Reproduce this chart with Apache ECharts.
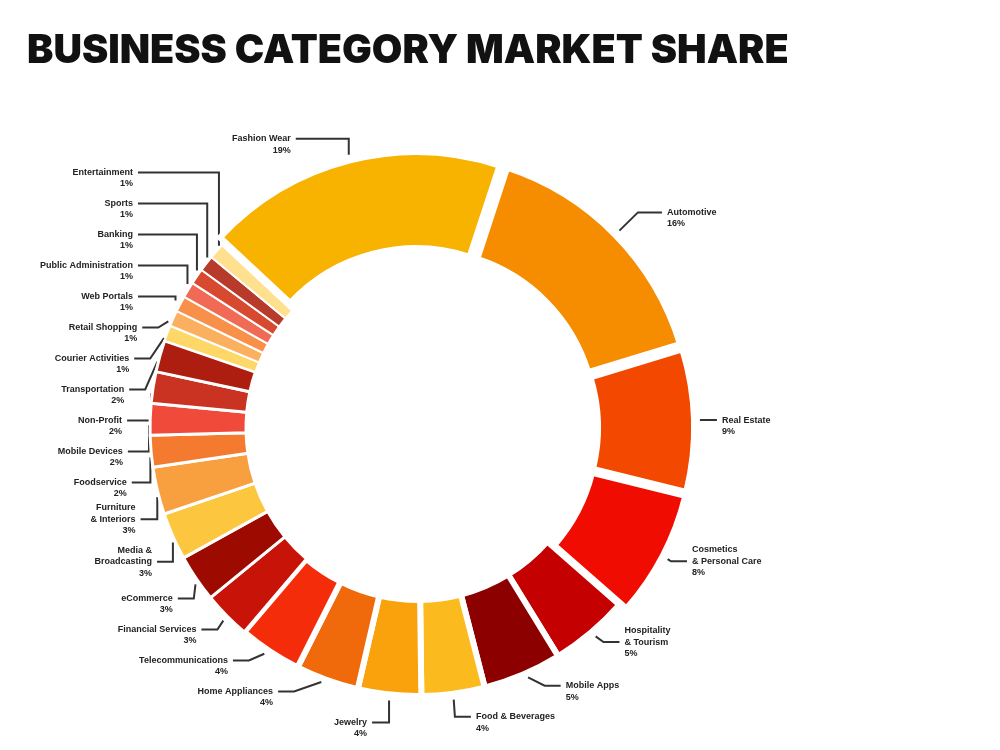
<!DOCTYPE html>
<html>
<head>
<meta charset="utf-8">
<script src="https://cdn.jsdelivr.net/npm/echarts@6/dist/echarts.min.js"></script>
<style>html,body{margin:0;padding:0;background:#fff}#c{width:1000px;height:750px}</style>
</head>
<body>
<div id="c"></div>
<script>
const categories = [
  'Fashion Wear', 'Automotive', 'Real Estate', 'Cosmetics\n& Personal Care',
  'Hospitality\n& Tourism', 'Mobile Apps', 'Food & Beverages', 'Jewelry',
  'Home Appliances', 'Telecommunications', 'Financial Services', 'eCommerce',
  'Media &\nBroadcasting', 'Furniture\n& Interiors', 'Foodservice', 'Mobile Devices',
  'Non-Profit', 'Transportation', 'Courier Activities', 'Retail Shopping',
  'Web Portals', 'Public Administration', 'Banking', 'Sports', 'Entertainment'
];
const shares = [19, 16, 9, 8, 5, 5, 4, 4, 4, 4, 3, 3, 3, 3, 2, 2, 2, 2, 1, 1, 1, 1, 1, 1, 1];
const colors = [
  '#F8B200', '#F68C00', '#F24800', '#F00C00', '#C40000', '#8C0000', '#FBBB1E', '#F9A20C',
  '#F06A0C', '#F42C0A', '#C81408', '#9C0A00', '#FCC63E', '#F8A040', '#F47A30', '#F04A3A',
  '#CA3222', '#AE1E10', '#FDD868', '#FBB060', '#F8904A', '#F06A55', '#D84A30', '#B83A2A', '#FFE08E'
];

const CX = 418, CY = 428;
const LEFT_COLUMN_RIGHT = 133;
const LH = 11.5;

const data = categories.map((name, i) => {
  const item = {
    name: name,
    value: shares[i],
    selected: i < 4,
    itemStyle: {
      color: colors[i],
      borderColor: '#fff',
      borderWidth: shares[i] >= 4 ? 6 : (shares[i] >= 2 ? 3 : 2)
    }
  };
  if (i === 1) item.labelLine = { length: 32, length2: 24 };
  return item;
});

function elbowLayout(p) {
  const pts = p.labelLinePoints;
  if (!pts || pts.length < 3) return {};
  const a0 = pts[0], p1 = pts[1], c = pts[2];
  const dx0 = p1[0] - a0[0], dy0 = p1[1] - a0[1];
  const len = Math.sqrt(dx0 * dx0 + dy0 * dy0) || 1;
  const a = [a0[0] + dx0 / len * 6, a0[1] + dy0 / len * 6];
  const r = p.labelRect;
  const midY = r.y + r.height / 2;
  const nLines = categories[p.dataIndex].split('\n').length + 1;
  // leader line meets the name line for two-line labels, the middle line otherwise
  const textShift = nLines === 2 ? LH / 2 : 0;
  const leftSide = a0[0] < CX;
  if (leftSide) {
    const right = r.x + r.width;
    const gap = Math.max(3, c[0] - right);
    if (a0[1] < CY - 240) {
      const lineY = a[1] - 16;
      const nr = a[0] - 58;
      return {
        dx: nr - right, dy: lineY - midY + textShift,
        labelLinePoints: [a, [a[0], lineY], [nr + gap, lineY]]
      };
    }
    if (a0[0] < CX - 150 && midY < CY - 120) {
      const nr = Math.min(right, LEFT_COLUMN_RIGHT);
      return {
        dx: nr - right, dy: textShift,
        labelLinePoints: [a, [a[0], midY], [nr + gap, midY]]
      };
    }
  }
  if (Math.abs(c[1] - a[1]) > Math.abs(c[0] - a[0])) {
    return { dy: textShift, labelLinePoints: [a, [a[0], c[1]], c] };
  }
  return { dy: textShift, labelLinePoints: [a, p1, c] };
}

const chart = echarts.init(document.getElementById('c'));
chart.setOption({
  backgroundColor: '#fff',
  animation: false,
  title: {
    text: 'BUSINESS CATEGORY MARKET SHARE',
    left: 22,
    top: 26,
    textStyle: { fontFamily: 'Inter', fontWeight: 900, fontSize: 39.5, color: '#111' }
  },
  series: [{
    type: 'pie',
    left: 0, top: 0, right: 0, bottom: 12,
    center: [CX, CY],
    radius: [172, 268],
    startAngle: 137,
    clockwise: true,
    selectedMode: 'multiple',
    selectedOffset: 8,
    avoidLabelOverlap: true,
    data: data,
    label: {
      show: true,
      position: 'outside',
      formatter: '{b}\n{c}%',
      fontFamily: 'Liberation Sans',
      fontWeight: 'bold',
      fontSize: 9,
      lineHeight: LH,
      padding: [3, 0, 3, 0],
      color: '#222'
    },
    labelLine: {
      show: true,
      length: 12,
      length2: 16,
      lineStyle: { color: '#333', width: 2 }
    },
    labelLayout: elbowLayout,
    emphasis: { disabled: true }
  }]
});
</script>
</body>
</html>
